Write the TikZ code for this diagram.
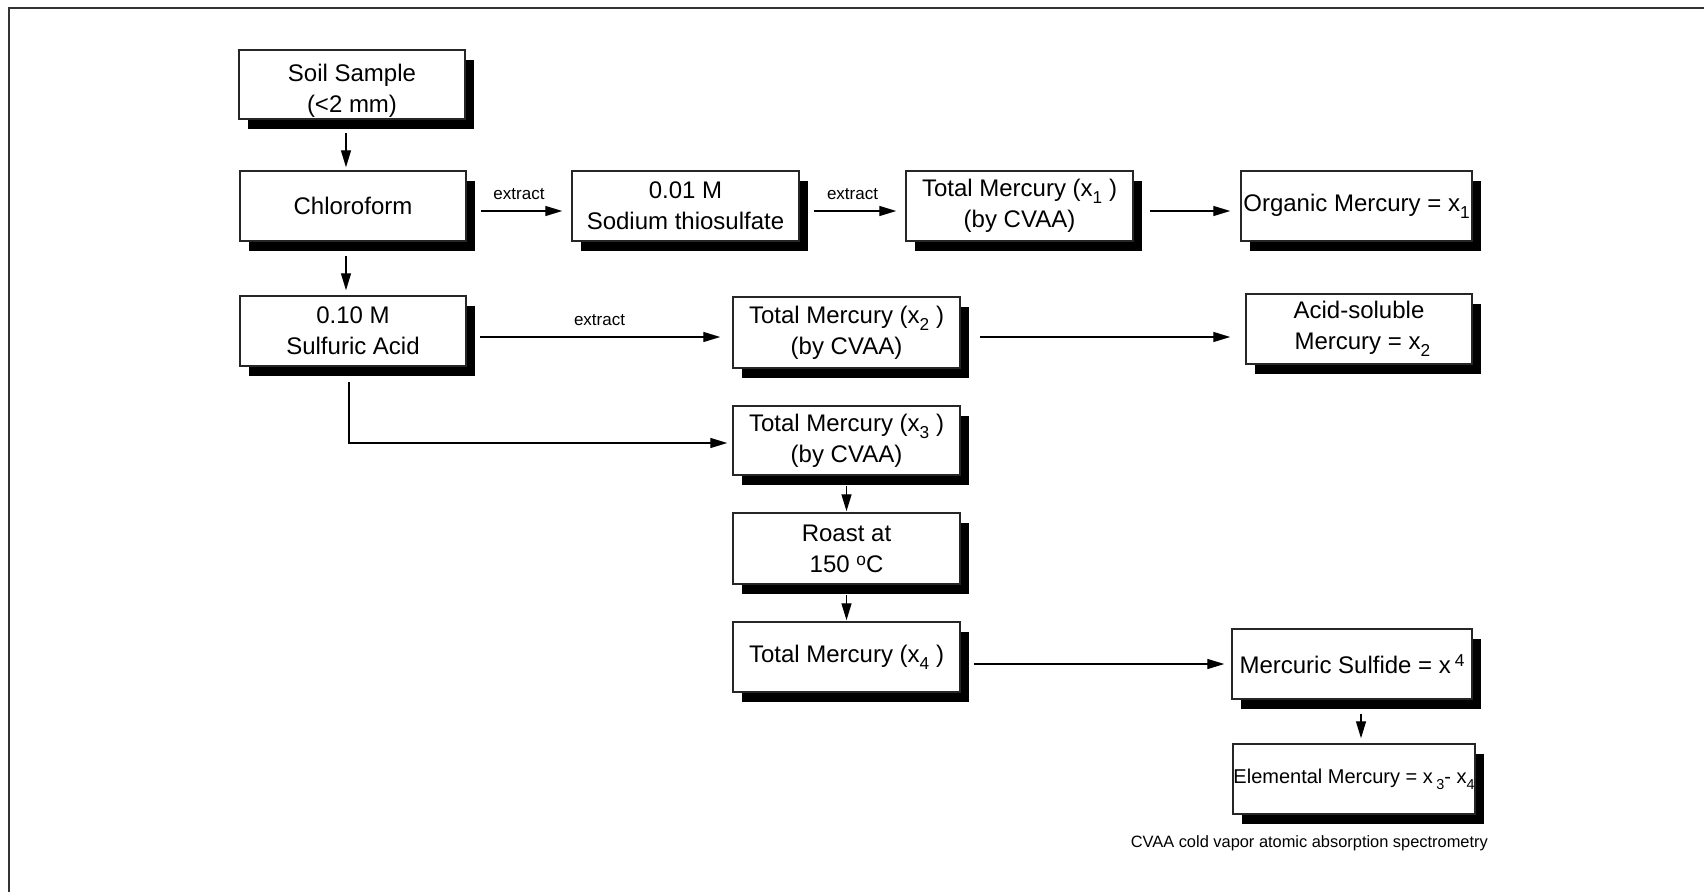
\documentclass[tikz,border=0pt]{standalone}
\usepackage{fontspec}
\setmainfont{Liberation Sans}
\usetikzlibrary{arrows.meta,shadows}
\newcommand\mysub[1]{\raisebox{-0.3em}{\fontsize{0.72em}{0.72em}\selectfont #1}}
\newcommand\mysup[1]{\raisebox{0.28em}{\fontsize{0.72em}{0.72em}\selectfont #1}}
\begin{document}
\begin{tikzpicture}[x=1pt,y=-1pt,
  box/.style={draw=black!85, line width=1.5pt, fill=white, inner sep=0pt, align=center,
     font=\fontsize{24pt}{31pt}\selectfont, minimum height=70pt,
     general shadow={fill=black, shadow xshift=9pt, shadow yshift=-10pt}},
  arr/.style={line width=1.4pt, -{Triangle[length=17pt,width=10pt]}},
  lbl/.style={font=\fontsize{17pt}{20pt}\selectfont, inner sep=0pt},
  note/.style={font=\fontsize{16.4pt}{19pt}\selectfont, inner sep=0pt, anchor=east},
]
\useasboundingbox (0,0) rectangle (1704,891);
\draw[line width=2.5pt, black!80] (9,895) -- (9,8) -- (1710,8);

\node[box, minimum width=226pt, minimum height=69pt] (soil) at (352,84.5) {\rule{0pt}{29pt}Soil Sample\\(<2 mm)};
\node[box, minimum width=226pt] (chl) at (353,206) {Chloroform};
\node[box, minimum width=226pt] (sulf) at (353,331) {0.10 M\\Sulfuric Acid};
\node[box, minimum width=227pt] (thio) at (685.5,206) {0.01 M\\Sodium thiosulfate};
\node[box, minimum width=227pt] (t1) at (1019.5,206) {Total Mercury (x\mysub{1} )\\(by CVAA)};
\node[box, minimum width=231pt] (org) at (1356.5,206) {Organic Mercury = x\mysub{1}};
\node[box, minimum width=227pt, minimum height=71pt] (t2) at (846.5,332.5) {Total Mercury (x\mysub{2} )\\(by CVAA)};
\node[box, minimum width=226pt] (acid) at (1359,329) {Acid-soluble\\\ Mercury = x\mysub{2}};
\node[box, minimum width=227pt, minimum height=69pt] (t3) at (846.5,440.5) {Total Mercury (x\mysub{3} )\\(by CVAA)};
\node[box, minimum width=227pt, minimum height=71pt] (roast) at (846.5,548.5) {Roast at\\150 \mysup{o}C};
\node[box, minimum width=227pt] (t4) at (846.5,657) {Total Mercury (x\mysub{4} )};
\node[box, minimum width=240pt] (hgs) at (1352,664) {Mercuric Sulfide = x\,\mysup{4}};
\node[box, minimum width=242pt, font=\fontsize{20pt}{24pt}\selectfont] (elem) at (1354,779) {Elemental Mercury = x\,\mysub{3}- x\mysub{4}};

\node[note] (fn) at (1488,843) {CVAA cold vapor atomic absorption spectrometry};

\draw[arr, shorten <=13pt, shorten >=3pt] ([xshift=-6pt]soil.south) -- ([xshift=-7pt]chl.north);
\draw[arr, shorten <=14pt, shorten >=5pt] ([xshift=-7pt]chl.south) -- ([xshift=-7pt]sulf.north);
\draw[arr, shorten <=14pt, shorten >=9pt] ([yshift=-5pt]chl.east) -- ([yshift=-5pt]thio.west)
   node[lbl, midway, above=11pt] {extract};
\draw[arr, shorten <=14pt, shorten >=9pt] ([yshift=-5pt]thio.east) -- ([yshift=-5pt]t1.west)
   node[lbl, midway, above=11pt] {extract};
\draw[arr, shorten <=16pt, shorten >=10pt] ([yshift=-5pt]t1.east) -- ([yshift=-5pt]org.west);
\draw[arr, shorten <=13pt, shorten >=12pt] ([yshift=-6pt]sulf.east) -- ([yshift=-4.5pt]t2.west)
   node[lbl, midway, above=11pt] {extract};
\draw[arr, shorten <=19pt, shorten >=15pt] ([yshift=-4.5pt]t2.east) -- ([yshift=-8pt]acid.west);
\draw[arr, shorten <=15pt, shorten >=5pt] ([xshift=-4pt]sulf.south) |- ([yshift=-2.5pt]t3.west);
\draw[arr, shorten <=10pt, shorten >=1pt] (t3.south) -- (roast.north);
\draw[arr, shorten <=10pt, shorten >=1pt] (roast.south) -- (t4.north);
\draw[arr, shorten <=13pt, shorten >=7pt] ([yshift=-7pt]t4.east) -- (hgs.west);
\draw[arr, shorten <=14pt, shorten >=5pt] ([xshift=9pt]hgs.south) -- ([xshift=7pt]elem.north);
\end{tikzpicture}
\end{document}
